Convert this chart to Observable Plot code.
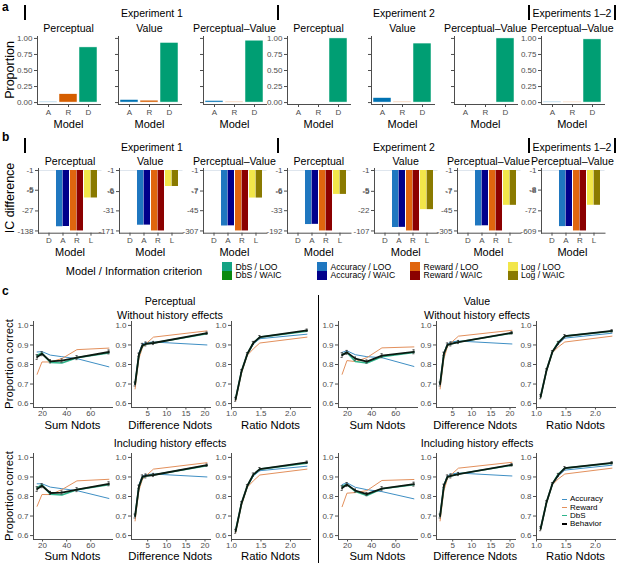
<!DOCTYPE html>
<html><head><meta charset="utf-8">
<script src="https://cdn.jsdelivr.net/npm/d3@7"></script>
<script src="https://cdn.jsdelivr.net/npm/@observablehq/plot@0.6"></script>
<style>
body{margin:0;background:#fff;font-family:"Liberation Sans",Arial,sans-serif}
#fig{position:relative;width:617px;height:563px;overflow:hidden;background:#fff}
#fig svg{position:absolute}
</style></head><body><div id="fig"></div>
<script>
// ---------------- DATA ----------------
// Panel a: proportion of participants best fit by each model
const aModels = ["A", "R", "D"];
const plotTitles = ["Perceptual", "Value", "Perceptual–Value", "Perceptual", "Value", "Perceptual–Value", "Perceptual–Value"];
const expHeaders = ["Experiment 1", "Experiment 2", "Experiments 1–2"];
const propAccuracy = [0.01, 0.04, 0.025, 0, 0.07, 0, 0.01];
const propReward   = [0.13, 0.03, 0.01, 0, 0.01, 0, 0.005];
const propDbS      = [0.86, 0.93, 0.965, 1.0, 0.92, 1.0, 0.985];
const propTicks = [0, 0.25, 0.5, 0.75, 1];

// Panel b: information-criterion difference (relative to DbS)
const bModels = ["D", "A", "R", "L"];
const dbsLOO  = [0, 0, 0, 0, 0, 0, 0];
const dbsWAIC = [0, 0, 0, 0, 0, 0, 0];
const accLOO  = [-98, -105, -192, -110, -82, -190, -384];
const accWAIC = [-96, -104, -189, -108, -81, -187, -380];
const rewLOO  = [-138, -171, -307, -192, -107, -305, -609];
const rewWAIC = [-138, -171, -307, -192, -107, -305, -609];
const logLOO  = [-9.4, -3.9, -13.6, -8.0, -20.6, -27, -40];
const logWAIC = [-9.4, -3.9, -13.6, -8.0, -20.6, -27, -40];
const icTickLabels = [
  [-1, -5, -27, -138], [-1, -6, -31, -171], [-1, -7, -45, -307], [-1, -6, -33, -192],
  [-1, -5, -22, -107], [-1, -7, -45, -305], [-1, -8, -72, -609]
];
const legendB = [
  ["DbS / LOO", "#14a383"], ["DbS / WAIC", "#0a8a10"],
  ["Accuracy / LOO", "#1f77c0"], ["Accuracy / WAIC", "#00008b"],
  ["Reward / LOO", "#e0650e"], ["Reward / WAIC", "#8b0000"],
  ["Log / LOO", "#f2e64a"], ["Log / WAIC", "#8a7a00"]
];

// Panel c: proportion correct
const sumNdots   = [15.5, 19.5, 26.5, 36, 48.5, 75];
const diffNdots  = [1.7, 2.7, 3.6, 4.5, 6.5, 20.5];
const ratioNdots = [1.07, 1.17, 1.27, 1.37, 1.48, 2.28];
const sumSE   = [0.012, 0.01, 0.008, 0.008, 0.01, 0.01];
const diffSE  = [0.01, 0.008, 0.01, 0.01, 0.008, 0.006];
const ratioSE = [0.01, 0.008, 0.006, 0.008, 0.008, 0.006];
const sumTicks = [20, 40, 60];
const diffTicks = [5, 10, 15, 20];
const ratioTicks = [1.0, 1.5, 2.0];
const pcTicks = [0.6, 0.7, 0.8, 0.9, 1.0];
const seriesNames = ["Accuracy", "Reward", "DbS", "Behavior"];
const seriesColors = ["#3f8fc4", "#e3905c", "#2fb58c", "#000000"];

const percNoHistSum   = {acc:[0.864,0.866,0.848,0.840,0.830,0.788], rew:[0.750,0.813,0.813,0.830,0.876,0.884], dbs:[0.847,0.859,0.810,0.808,0.835,0.859], beh:[0.838,0.855,0.816,0.820,0.835,0.864]};
const percNoHistDiff  = {acc:[0.700,0.860,0.905,0.912,0.915,0.900], rew:[0.675,0.830,0.885,0.905,0.940,0.972], dbs:[0.700,0.850,0.895,0.905,0.910,0.957], beh:[0.700,0.850,0.898,0.905,0.910,0.960]};
const percNoHistRatio = {acc:[0.625,0.765,0.850,0.905,0.932,0.955], rew:[0.615,0.755,0.848,0.880,0.910,0.940], dbs:[0.625,0.765,0.855,0.910,0.940,0.970], beh:[0.622,0.765,0.855,0.910,0.940,0.975]};
const percHistSum     = {acc:[0.865,0.865,0.848,0.840,0.830,0.790], rew:[0.750,0.810,0.810,0.835,0.880,0.888], dbs:[0.845,0.860,0.812,0.808,0.835,0.860], beh:[0.838,0.855,0.818,0.820,0.835,0.865]};
const percHistDiff    = {acc:[0.700,0.860,0.905,0.912,0.915,0.900], rew:[0.675,0.830,0.887,0.905,0.940,0.973], dbs:[0.700,0.850,0.897,0.905,0.910,0.958], beh:[0.700,0.850,0.900,0.905,0.910,0.960]};
const percHistRatio   = {acc:[0.625,0.765,0.850,0.905,0.932,0.955], rew:[0.615,0.755,0.848,0.880,0.910,0.940], dbs:[0.625,0.765,0.855,0.910,0.940,0.970], beh:[0.622,0.765,0.855,0.912,0.940,0.975]};
const valNoHistSum    = {acc:[0.862,0.870,0.850,0.840,0.835,0.790], rew:[0.750,0.820,0.815,0.835,0.885,0.890], dbs:[0.850,0.862,0.815,0.808,0.840,0.862], beh:[0.848,0.862,0.830,0.815,0.845,0.865]};
const valNoHistDiff   = {acc:[0.700,0.860,0.905,0.915,0.920,0.905], rew:[0.675,0.830,0.890,0.910,0.945,0.975], dbs:[0.700,0.855,0.900,0.905,0.915,0.960], beh:[0.700,0.855,0.900,0.905,0.915,0.962]};
const valNoHistRatio  = {acc:[0.635,0.770,0.860,0.905,0.935,0.960], rew:[0.630,0.765,0.860,0.890,0.915,0.945], dbs:[0.635,0.770,0.865,0.915,0.945,0.970], beh:[0.635,0.770,0.865,0.910,0.945,0.972]};
const valHistSum      = {acc:[0.861,0.870,0.847,0.835,0.825,0.788], rew:[0.748,0.817,0.820,0.830,0.882,0.887], dbs:[0.852,0.861,0.826,0.805,0.840,0.860], beh:[0.843,0.861,0.830,0.812,0.840,0.863]};
const valHistDiff     = {acc:[0.700,0.860,0.905,0.915,0.920,0.905], rew:[0.675,0.830,0.890,0.910,0.945,0.975], dbs:[0.700,0.855,0.900,0.905,0.915,0.960], beh:[0.700,0.855,0.900,0.905,0.915,0.962]};
const valHistRatio    = {acc:[0.635,0.770,0.860,0.905,0.935,0.960], rew:[0.630,0.765,0.860,0.890,0.915,0.945], dbs:[0.635,0.770,0.865,0.915,0.945,0.970], beh:[0.635,0.770,0.865,0.910,0.945,0.972]};

// ---------------- HELPERS ----------------
const fig = document.getElementById("fig");
const FONT = '"Liberation Sans", Arial, sans-serif';
function label(s, x, y, size, o = {}) {
  const d = document.createElement("div");
  d.textContent = s;
  const ax = o.ax ?? -50;
  Object.assign(d.style, {
    position: "absolute", left: x + "px", top: y + "px", fontSize: size + "px", lineHeight: "1",
    whiteSpace: "nowrap", fontFamily: FONT, color: o.color || "#000", fontWeight: o.bold ? "bold" : "normal",
    transform: `translate(${ax}%, -50%)` + (o.rot ? ` rotate(${o.rot}deg)` : ""),
    zIndex: o.z || "auto"
  });
  fig.appendChild(d);
}
function box(x, y, w, h, bg) {
  const d = document.createElement("div");
  Object.assign(d.style, {position: "absolute", left: x + "px", top: y + "px", width: w + "px", height: h + "px", background: bg});
  fig.appendChild(d);
}
function mount(svg, x0, y0, mL, mT) {
  svg.style.left = (x0 - mL) + "px";
  svg.style.top = (y0 - mT) + "px";
  fig.appendChild(svg);
}
const plotStyle = {fontFamily: FONT, fontSize: "8px", color: "#4d4d4d", background: "transparent", overflow: "visible"};

// ---------------- PANEL HEADERS ----------------
const expCenters = [152, 404, 572];
const barXs = [25, 278, 529, 615];
function headers(yText, yBar) {
  expHeaders.forEach((h, i) => label(h, expCenters[i], yText, 10.5));
  barXs.forEach(x => box(x - 0.6, yBar, 1.3, 15, "#000"));
}
label("a", 2, 7, 12, {bold: true, ax: 0});
label("b", 2, 137, 12, {bold: true, ax: 0});
label("c", 2, 291, 12, {bold: true, ax: 0});
headers(13, 5);
headers(147, 138);

// ---------------- PANEL A ----------------
const aX = [37, 118, 203, 287, 371, 454, 540.7];
const aColors = ["#0072B2", "#D55E00", "#009E73"];
aX.forEach((x0, i) => {
  const W = 63, H = 68, top = 36, mL = 28, mR = 4, mT = 4, mB = 14;
  const vals = [propAccuracy[i], propReward[i], propDbS[i]];
  const data = aModels.map((m, j) => ({model: m, value: vals[j]}));
  const showY = i === 0 || i === 3 || i === 6;
  const svg = Plot.plot({
    width: W + mL + mR, height: H + mT + mB,
    marginLeft: mL, marginRight: mR, marginTop: mT, marginBottom: mB,
    style: plotStyle,
    x: {type: "band", domain: aModels, padding: 0.08},
    y: {domain: [-0.03, 1.03]},
    color: {domain: aModels, range: aColors},
    marks: [
      Plot.barY(data, {x: "model", y: "value", fill: "model", stroke: "white", strokeWidth: 0.5}),
      Plot.axisX({tickSize: 3, tickPadding: 1.5, label: null}),
      Plot.axisY({ticks: propTicks, tickSize: 3, tickPadding: 2, label: null,
        tickFormat: showY ? d3.format(".2f") : () => ""}),
      Plot.frame({anchor: "left", stroke: "#4d4d4d"}),
      Plot.frame({anchor: "bottom", stroke: "#4d4d4d"})
    ]
  });
  mount(svg, x0, top, mL, mT);
  label(plotTitles[i], x0 + W / 2, 28, 10.6);
  label("Model", x0 + W / 2, 124, 11);
});
label("Proportion", 10, 70, 12.5, {rot: -90});

// ---------------- PANEL B ----------------
// y is drawn on a log-magnitude axis: position = -ln|IC difference|
const bX = [38.3, 118.5, 202.7, 287, 374, 456.7, 540.7];
const logMag = v => -Math.log(-v);
const bTickLabelQueue = [];
bX.forEach((x0, i) => {
  const W = 63.5, H = 64.7, top = 168.3, mL = 30, mR = 4, mT = 4, mB = 14;
  const rows = [
    {model: "D", ic: "LOO", v: dbsLOO[i], c: legendB[0][1]}, {model: "D", ic: "WAIC", v: dbsWAIC[i], c: legendB[1][1]},
    {model: "A", ic: "LOO", v: accLOO[i], c: legendB[2][1]}, {model: "A", ic: "WAIC", v: accWAIC[i], c: legendB[3][1]},
    {model: "R", ic: "LOO", v: rewLOO[i], c: legendB[4][1]}, {model: "R", ic: "WAIC", v: rewWAIC[i], c: legendB[5][1]},
    {model: "L", ic: "LOO", v: logLOO[i], c: legendB[6][1]}, {model: "L", ic: "WAIC", v: logWAIC[i], c: legendB[7][1]}
  ].filter(d => d.v < -1).map(d => ({...d, base: -1}));
  const tl = icTickLabels[i];
  const L = Math.log(Math.abs(d3.min(tl)));
  const pi = 0.1, po = 0.2;
  const step = W / (bModels.length - pi + 2 * po);
  const bw = step * (1 - pi);
  const svg = Plot.plot({
    width: W + mL + mR, height: H + mT + mB,
    marginLeft: mL, marginRight: mR, marginTop: mT, marginBottom: mB,
    style: plotStyle,
    x: {type: "band", domain: bModels, paddingInner: pi, paddingOuter: po},
    y: {domain: [-1.037 * L, 0.033 * L]},
    color: {type: "identity"},
    marks: [
      Plot.ruleY([logMag(-1)], {stroke: "#dfe6ee", strokeWidth: 1}),
      Plot.barY(rows.filter(d => d.ic === "LOO"), {x: "model", y1: d => logMag(d.base), y2: d => logMag(d.v), fill: "c", insetRight: bw / 2}),
      Plot.barY(rows.filter(d => d.ic === "WAIC"), {x: "model", y1: d => logMag(d.base), y2: d => logMag(d.v), fill: "c", insetLeft: bw / 2}),
      Plot.axisX({tickSize: 3, tickPadding: 1.5, label: null}),
      Plot.axisY({ticks: tl.map(logMag), tickSize: 3, tickPadding: 2, label: null,
        tickFormat: t => String(Math.round(-Math.exp(-t)))}),
      Plot.frame({anchor: "left", stroke: "#4d4d4d"}),
      Plot.frame({anchor: "bottom", stroke: "#4d4d4d"})
    ]
  });
  mount(svg, x0, top, mL, mT);
  // backup tick labels (placed through the plot's own y scale), drawn on top of everything
  const ys = svg.scale("y");
  tl.forEach(t => bTickLabelQueue.push([String(t), x0 - 4.5, top - mT + ys.apply(logMag(t))]));
  label(plotTitles[i], x0 + W / 2, 161, 10.6);
  label("Model", x0 + W / 2, 252, 11);
});
label("IC difference", 10, 198, 12.5, {rot: -90});
label("Model / Information criterion", 134, 271, 11);
const legBX = [222, 317, 410, 507.5];
legBX.forEach((x, k) => {
  for (let r = 0; r < 2; r++) {
    const [txt, col] = legendB[k * 2 + r];
    box(x, 262 + r * 8.8, 10, 8.8, col);
    label(txt, x + 13.5, 266.5 + r * 8.8, 8.6, {ax: 0});
  }
});

// ---------------- PANEL C ----------------
const cSpecs = {
  sum:   {xs: sumNdots,   se: sumSE,   domain: [12.5, 78],    ticks: sumTicks,   fmt: d3.format("d"),   title: "Sum Ndots"},
  diff:  {xs: diffNdots,  se: diffSE,  domain: [0.76, 21.44], ticks: diffTicks,  fmt: d3.format("d"),   title: "Difference Ndots"},
  ratio: {xs: ratioNdots, se: ratioSE, domain: [1.0, 2.34],   ticks: ratioTicks, fmt: d3.format(".1f"), title: "Ratio Ndots"}
};
function cPlot(kind, obj, x0, top, titleY) {
  const s = cSpecs[kind];
  const W = 79, H = 86, mL = 24, mR = 4, mT = 4, mB = 14;
  const keys = ["acc", "rew", "dbs", "beh"];
  const series = keys.map(k => obj[k].map((v, j) => ({x: s.xs[j], y: v})));
  const eb = obj.beh.map((v, j) => ({x: s.xs[j], lo: v - s.se[j], hi: v + s.se[j]}));
  const dx = (s.domain[1] - s.domain[0]) * 0.013;
  const svg = Plot.plot({
    width: W + mL + mR, height: H + mT + mB,
    marginLeft: mL, marginRight: mR, marginTop: mT, marginBottom: mB,
    style: plotStyle,
    x: {domain: s.domain},
    y: {domain: [0.58, 1.02]},
    marks: [
      Plot.axisX({ticks: s.ticks, tickFormat: s.fmt, tickSize: 2.5, tickPadding: 0.5, label: null}),
      Plot.axisY({ticks: pcTicks, tickFormat: d3.format(".1f"), tickSize: 3, tickPadding: 2, label: null}),
      Plot.line(series[0], {x: "x", y: "y", stroke: seriesColors[0], strokeWidth: 1}),
      Plot.line(series[1], {x: "x", y: "y", stroke: seriesColors[1], strokeWidth: 1}),
      Plot.line(series[2], {x: "x", y: "y", stroke: seriesColors[2], strokeWidth: 1.6}),
      Plot.ruleX(eb, {x: "x", y1: "lo", y2: "hi", stroke: "#333", strokeWidth: 0.8}),
      Plot.ruleY(eb, {y: "lo", x1: d => d.x - dx, x2: d => d.x + dx, stroke: "#333", strokeWidth: 0.8}),
      Plot.ruleY(eb, {y: "hi", x1: d => d.x - dx, x2: d => d.x + dx, stroke: "#333", strokeWidth: 0.8}),
      Plot.line(series[3], {x: "x", y: "y", stroke: "#0b1a12", strokeWidth: 1.8}),
      Plot.frame({anchor: "left", stroke: "#4d4d4d"}),
      Plot.frame({anchor: "bottom", stroke: "#4d4d4d"})
    ]
  });
  mount(svg, x0, top, mL, mT);
  label(s.title, x0 + W / 2, titleY, 11.3);
}
const cLeftX = {sum: 33, diff: 130.7, ratio: 231};
const cOffset = 305;
const row1Top = 320.8, row2Top = 452.8;
[["sum", percNoHistSum, percHistSum, valNoHistSum, valHistSum],
 ["diff", percNoHistDiff, percHistDiff, valNoHistDiff, valHistDiff],
 ["ratio", percNoHistRatio, percHistRatio, valNoHistRatio, valHistRatio]].forEach(([k, pn, ph, vn, vh]) => {
  cPlot(k, pn, cLeftX[k], row1Top, 426);
  cPlot(k, ph, cLeftX[k], row2Top, 557);
  cPlot(k, vn, cLeftX[k] + cOffset, row1Top, 426);
  cPlot(k, vh, cLeftX[k] + cOffset, row2Top, 557);
});
label("Perceptual", 170, 301, 10.6);
label("Without history effects", 170, 315, 10.8);
label("Including history effects", 170, 443, 10.8);
label("Value", 477, 301, 10.6);
label("Without history effects", 477, 315, 10.8);
label("Including history effects", 477, 443, 10.8);
label("Proportion correct", 10, 364, 11.3, {rot: -90});
label("Proportion correct", 10, 496, 11.3, {rot: -90});
box(317.5, 295, 1.3, 268, "#000");
seriesNames.forEach((n, k) => {
  box(561.5, 499.3 + k * 8.3 - (k === 3 ? 0.9 : 0.6), 5, k === 3 ? 1.8 : 1.2, seriesColors[k]);
  label(n, 570, 499.3 + k * 8.3, 8, {ax: 0});
});
// panel b second-tick labels, drawn last and on top (only the intermediate ticks, the others come from the axis)
bTickLabelQueue.filter((_, j) => j % 4 === 1).forEach(([s, x, y]) => {
  const d = document.createElement("div");
  d.textContent = s;
  Object.assign(d.style, {position: "absolute", left: (x - 20) + "px", top: (y - 5) + "px", width: "20px", height: "10px",
    lineHeight: "10px", textAlign: "right", fontSize: "8px", fontFamily: FONT, color: "#4d4d4d", zIndex: "50"});
  fig.appendChild(d);
});
</script></body></html>
